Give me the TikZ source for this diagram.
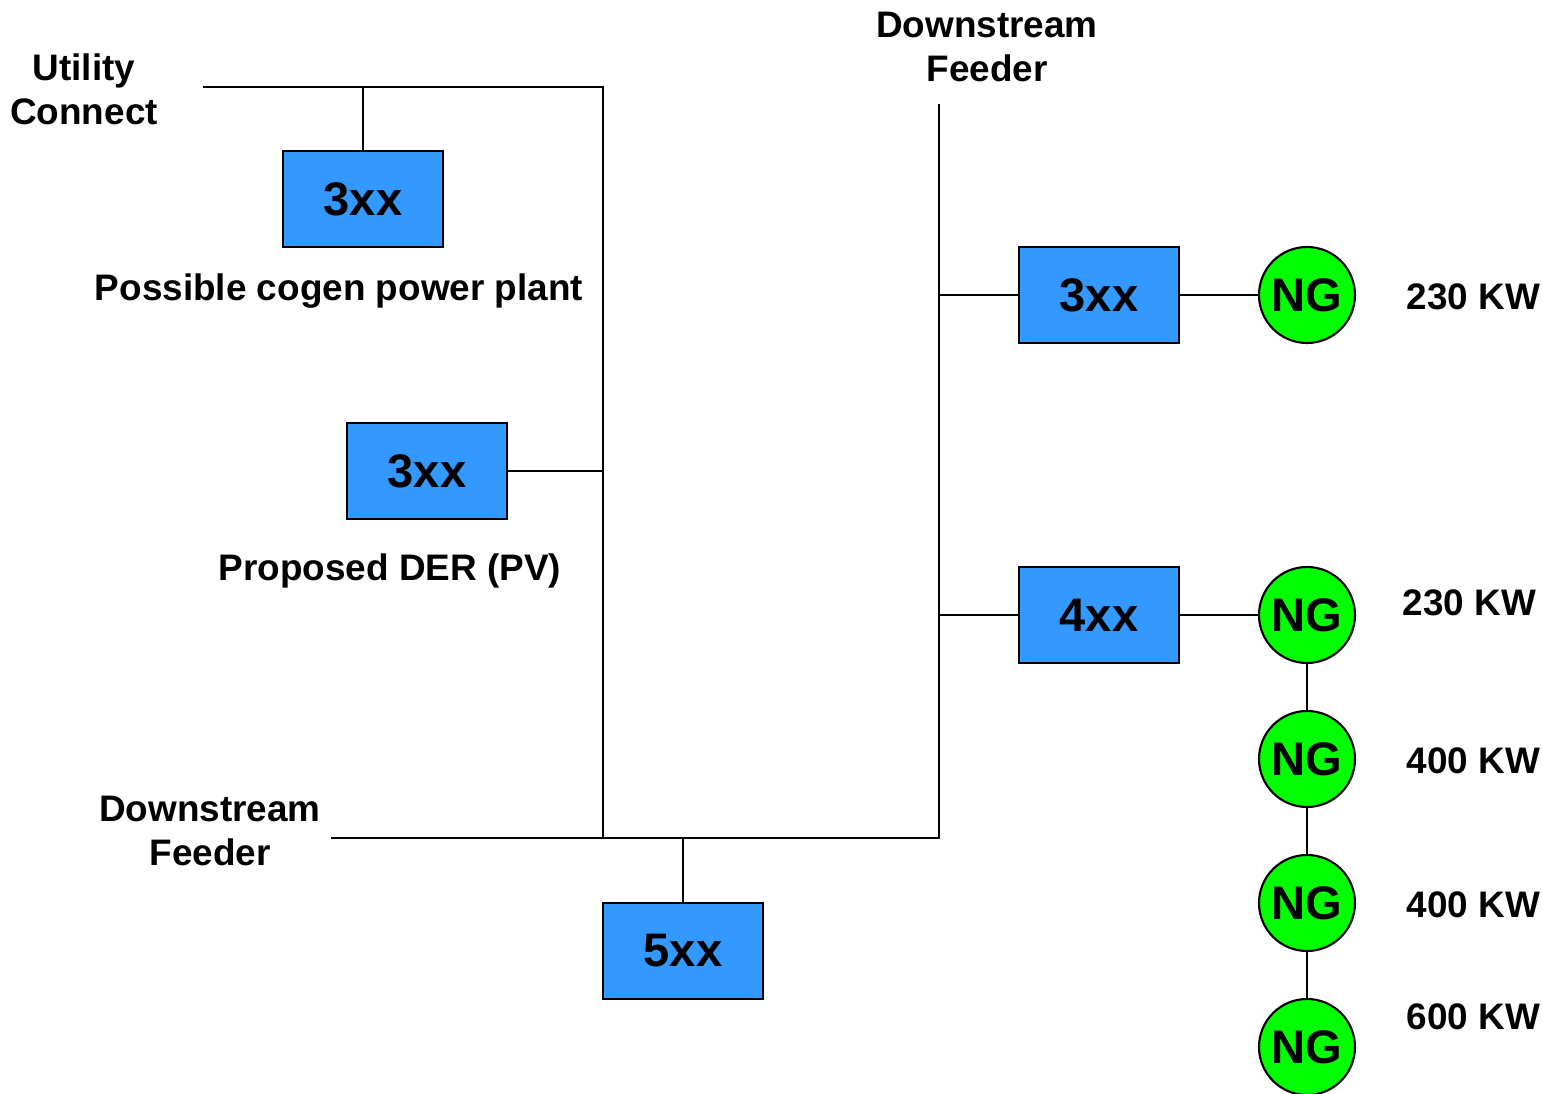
\documentclass[tikz,border=0pt]{standalone}
\usepackage{fontspec}
\setmainfont{Liberation Sans}
\usetikzlibrary{positioning}
\definecolor{boxblue}{RGB}{51,153,255}
\definecolor{nggreen}{RGB}{0,255,0}
\tikzset{
	relay/.style={draw, line width=0.6pt, fill=boxblue, minimum width=16mm,
		minimum height=9.6mm, inner sep=0pt, font=\fontsize{13.4}{16}\selectfont\bfseries},
	gen/.style={draw, circle, line width=0.6pt, fill=nggreen, minimum size=9.6mm,
		inner sep=0pt, font=\fontsize{13.4}{16}\selectfont\bfseries},
	lbl/.style={align=center, inner sep=0pt, font=\fontsize{10.5}{12.6}\selectfont\bfseries},
	kw/.style={lbl, anchor=west},
	wire/.style={line width=0.6pt},
}

\begin{document}
\begin{tikzpicture}[x=0.1mm, y=-0.1mm]
	\useasboundingbox (0,0) rectangle (1543,1094);
	% bus corners
	\coordinate (uc) at (203,87);
	\coordinate (tr) at (603,87);
	\coordinate (bl) at (331,838);
	\coordinate (jl) at (603,838);
	\coordinate (jr) at (939,838);
	\coordinate (ft) at (939,104);
	% left side
	\node[lbl] at (84,89) (util) {Utility\\Connect};
	\node[relay] at (363,199) (cogen) {3xx};
	\node[lbl] at (339,291) (cogenl) {Possible cogen power plant};
	\node[relay] at (427,471) (pv) {3xx};
	\node[lbl] at (390,571) (pvl) {Proposed DER (PV)};
	\node[lbl] at (210,831) (dfl) {Downstream\\Feeder};
	\node[relay] at (683,951) (main) {5xx};
	% right side
	\node[lbl] at (987,47) (dfr) {Downstream\\Feeder};
	\node[relay] at (1099,295) (fd1) {3xx};
	\node[relay] at (1099,615) (fd2) {4xx};
	\node[gen] at (1307,295) (ng1) {NG};
	\node[gen] at (1307,615) (ng2) {NG};
	\node[gen] at (1307,759) (ng3) {NG};
	\node[gen] at (1307,903) (ng4) {NG};
	\node[gen] at (1307,1047) (ng5) {NG};
	\node[kw] at (1406,297) (kw1) {230 KW};
	\node[kw] at (1402,603) (kw2) {230 KW};
	\node[kw] at (1406,761) (kw3) {400 KW};
	\node[kw] at (1406,905) (kw4) {400 KW};
	\node[kw] at (1406,1017) (kw5) {600 KW};
	% wiring
	\draw[wire] (uc) -- (tr) -- (jl);
	\draw[wire] (bl) -- (jr) -- (ft);
	\draw[wire] (cogen.north) -- (cogen.north |- uc);
	\draw[wire] (pv.east) -- (pv.east -| tr);
	\draw[wire] (main.north) -- (main.north |- bl);
	\draw[wire] (fd1.west -| ft) -- (fd1.west);
	\draw[wire] (fd2.west -| ft) -- (fd2.west);
	\draw[wire] (fd1) -- (ng1);
	\draw[wire] (fd2) -- (ng2) -- (ng3) -- (ng4) -- (ng5);
\end{tikzpicture}
\end{document}
